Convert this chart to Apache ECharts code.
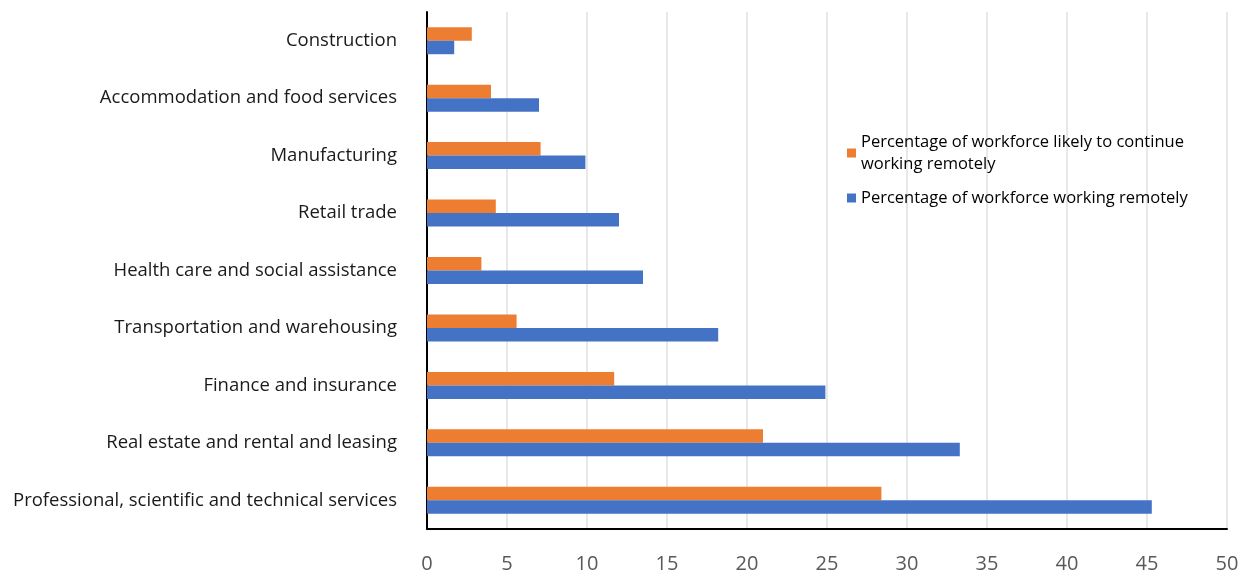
<!DOCTYPE html>
<html>
<head>
<meta charset="utf-8">
<script src="https://cdn.jsdelivr.net/npm/echarts@6/dist/echarts.min.js"></script>
<style>
  html, body { margin: 0; padding: 0; background: #fff; }
  #chart { width: 1247px; height: 574px; }
</style>
</head>
<body>
<div id="chart"></div>
<script>
// industries, top to bottom
const industries = [
  'Construction',
  'Accommodation and food services',
  'Manufacturing',
  'Retail trade',
  'Health care and social assistance',
  'Transportation and warehousing',
  'Finance and insurance',
  'Real estate and rental and leasing',
  'Professional, scientific and technical services'
];
const likelyToContinue = [2.8, 4.0, 7.1, 4.3, 3.4, 5.6, 11.7, 21.0, 28.4];
const workingRemotely = [1.7, 7.0, 9.9, 12.0, 13.5, 18.2, 24.9, 33.3, 45.3];
const xTicks = [0, 5, 10, 15, 20, 25, 30, 35, 40, 45, 50];

const chart = echarts.init(document.getElementById('chart'));

const option = {
  animation: false,
  grid: { left: 427, right: 20, top: 12, bottom: 44, containLabel: false },
  legend: {
    orient: 'vertical',
    left: 842,
    top: 126,
    itemWidth: 9,
    itemHeight: 9,
    itemGap: 12,
    icon: 'rect',
    textStyle: {
      fontFamily: 'Open Sans',
      fontSize: 16.5,
      color: '#000',
      width: 335,
      overflow: 'break',
      lineHeight: 22
    },
    data: ['Percentage of workforce likely to continue working remotely', 'Percentage of workforce working remotely']
  },
  xAxis: {
    type: 'value',
    min: xTicks[0],
    max: xTicks[xTicks.length - 1],
    interval: 5,
    axisLine: { show: true, lineStyle: { color: '#000', width: 2 } },
    axisTick: { show: false },
    splitLine: { show: true, lineStyle: { color: '#e8e8e8', width: 2 } },
    axisLabel: { color: '#595959', fontFamily: 'Open Sans', fontSize: 20, margin: 25 }
  },
  yAxis: {
    type: 'category',
    inverse: true,
    data: industries,
    axisLine: { show: true, lineStyle: { color: '#000', width: 2 } },
    axisTick: { show: false },
    axisLabel: { color: '#1a1a1a', fontFamily: 'Open Sans', fontSize: 18.5, margin: 30 }
  },
  series: [
    {
      name: 'Percentage of workforce likely to continue working remotely',
      type: 'bar',
      data: likelyToContinue,
      barGap: '0%',
      barCategoryGap: '53%',
      itemStyle: { color: '#ed7d31' }
    },
    {
      name: 'Percentage of workforce working remotely',
      type: 'bar',
      data: workingRemotely,
      barGap: '0%',
      barCategoryGap: '53%',
      itemStyle: { color: '#4472c4' }
    }
  ]
};

chart.setOption(option);
</script>
</body>
</html>
